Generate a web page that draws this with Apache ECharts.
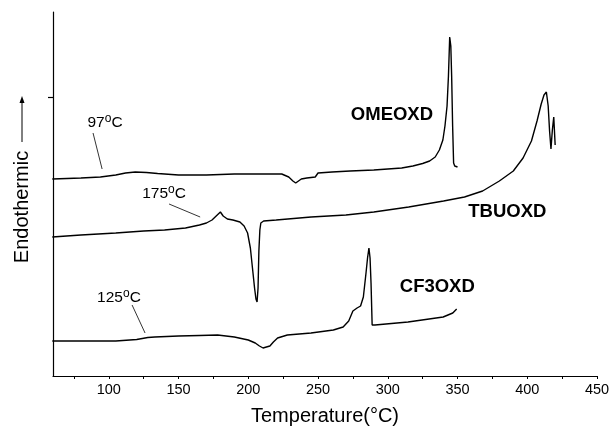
<!DOCTYPE html>
<html>
<head>
<meta charset="utf-8">
<script src="https://cdn.jsdelivr.net/npm/echarts@6/dist/echarts.min.js"></script>
<style>
html,body{margin:0;padding:0;background:#fff;}
#c{width:610px;height:435px;}
</style>
</head>
<body>
<div id="c"></div>
<script>
// ---- Data (temperature in °C, heat flow in arbitrary units, offset per curve) ----
const omeT = [59.5,70,80,94,105,112,119,127,135,150,170,190,210,224,229,232,234,236,238,242,248,250,260,273,290,300,310,318,325,330,334,337,339.5,341,342.5,343.5,344.4,345.2,345.8,346.5,347.2,348,350];
const omeV = [197,197.5,198,199,201,203,204,203.5,202.5,201,201,202,202,202,199,195,193,195,197,198,199,203,204,205,206,207,208,210,212.5,215,219,226,236,250,270,300,339,330,300,250,213,210,209];

const tbuT = [59.5,80,105,125,140,155,165,170,174,177,180,182,185,189,194,197,199.5,201.5,203,204.5,205.5,206.3,207,207.6,208.3,209,211,220,245,270,290,315,340,355,368,380,390,397,403,407,410,412,413.7,415,416,417,418,419,420];
const tbuV = [139,141,143,145,146,148,151,153,156,160,164,160,157,156,154,150,143,128,108,88,77,74,88,125,146,153,155,156,159,161,164,169,175,179,185,195,205,218,235,255,272,281,284,270,245,227,246,259,231];

const cf3T = [59.5,80,105,120,128,133,150,165,178,190,200,205,208,210.6,213,215.5,218,221,228,245,261,268,272,275,278,280.5,282.5,284.4,285.5,286.5,287.3,288,288.8,290.8,314.5,339.7,346.6,349.4];
const cf3V = [35,35,35,36.5,38.5,39,40,40.5,41,39,36,33,30,28,29,30,34,38,41,43,46,49,55,65,68,70,79,103,118,128,118,93,51,51,54,59,63,67];

const xTickLabels = [100,150,200,250,300,350,400,450];
const xTicks = [75,100,125,150,175,200,225,250,275,300,325,350,375,400,425,450];

// annotation texts and anchor positions (data coords)
const annText = ['OMEOXD','TBUOXD','CF3OXD','97°C','175°C','125°C'];
const annX = [303,385.7,335.5,97.3,139.6,107.3];
const annY = [261,164,89,253,182,78];
const annBold = [true,true,true,false,false,false];
// arrows: start and end points (data coords)
const arrX1 = [88.7,143.2,116.7];
const arrY1 = [243,172,71];
const arrX2 = [95.2,165.5,126];
const arrY2 = [207,159,43];

const zip = (a,b)=>a.map((v,i)=>[v,b[i]]);
const FONT = '"Liberation Sans", Arial, sans-serif';

const chart = echarts.init(document.getElementById('c'), null, {renderer:'canvas'});
const lineBase = {type:'line', showSymbol:false, symbol:'none', smooth:false, animation:false,
  lineStyle:{color:'#000', width:1.4}, z:3};

const annData = annText.map((t,i)=>({
  value:[annX[i], annY[i]],
  label:{
    show:true,
    formatter: annBold[i] ? t : t.replace('°C','{s|o}C'),
    fontWeight: annBold[i] ? 'bold' : 'normal',
    fontSize: annBold[i] ? 18.5 : 15.5,
    color:'#000', opacity:1, textBorderWidth:0,
    fontFamily:FONT
  }
}));

const arrows = arrX1.map((x,i)=>[{coord:[x, arrY1[i]]},{coord:[arrX2[i], arrY2[i]]}]);

chart.setOption({
  backgroundColor:'#fff',
  animation:false,
  grid:{left:53, right:13, top:12, bottom:59, containLabel:false, outerBoundsMode:'none'},
  xAxis:{
    type:'value', min:60, max:450,
    name:'Temperature(°C)', nameLocation:'middle', nameGap:30,
    nameTextStyle:{fontFamily:FONT, fontSize:20, color:'#000'},
    axisLine:{show:true, onZero:false, lineStyle:{color:'#000', width:1.2}},
    axisTick:{show:true, inside:false, length:3, customValues:xTicks, lineStyle:{color:'#000', width:1}},
    axisLabel:{show:true, customValues:xTickLabels, margin:6, fontFamily:FONT, fontSize:14.5, color:'#000'},
    splitLine:{show:false}, minorTick:{show:false}
  },
  yAxis:{
    type:'value', min:0, max:364,
    axisLine:{show:true, onZero:false, lineStyle:{color:'#000', width:1.2}},
    axisTick:{show:true, inside:false, length:5, customValues:[279], lineStyle:{color:'#000', width:1.2}},
    axisLabel:{show:false},
    splitLine:{show:false}
  },
  series:[
    Object.assign({}, lineBase, {name:'OMEOXD', data:zip(omeT, omeV)}),
    Object.assign({}, lineBase, {name:'TBUOXD', data:zip(tbuT, tbuV)}),
    Object.assign({}, lineBase, {name:'CF3OXD', data:zip(cf3T, cf3V)}),
    {
      type:'scatter', symbolSize:0, silent:true, animation:false, z:5,
      itemStyle:{opacity:1},
      emphasis:{disabled:true},
      data:annData,
      label:{show:true, position:'inside', color:'#000', fontFamily:FONT,
        rich:{s:{fontSize:12, fontFamily:FONT, color:'#000', verticalAlign:'top', padding:[0,0,9,0]}}},
      markLine:{
        silent:true, animation:false, symbol:['none','arrow'], symbolSize:[0,5],
        lineStyle:{color:'#000', width:0.8, type:'solid', opacity:1},
        label:{show:false},
        emphasis:{disabled:true},
        data:arrows
      }
    }
  ],
  graphic:[
    {type:'text', x:22, y:207, rotation:Math.PI/2,
      style:{text:'Endothermic', font:'20px "Liberation Sans", Arial, sans-serif', fill:'#000', align:'center', verticalAlign:'middle'}},
    {type:'line', shape:{x1:22, y1:142, x2:22, y2:99}, style:{stroke:'#000', lineWidth:1}},
    {type:'polygon', shape:{points:[[22,96],[19.5,103],[24.5,103]]}, style:{fill:'#000'}}
  ]
});
</script>
</body>
</html>
